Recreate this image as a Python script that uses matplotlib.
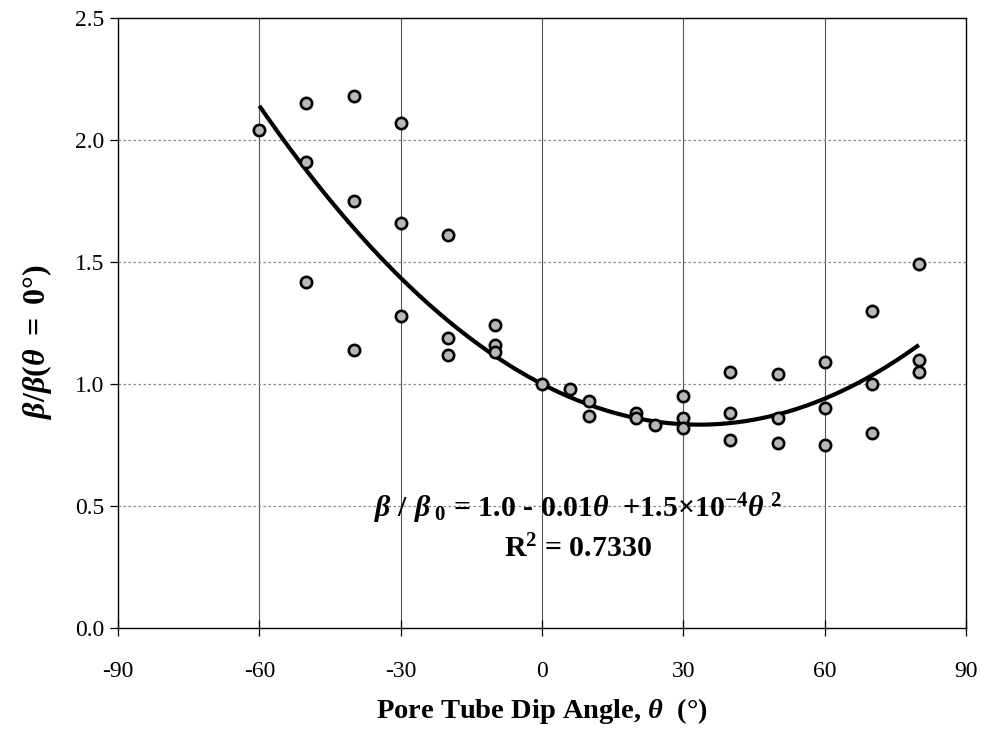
import numpy as np
import matplotlib
matplotlib.use("Agg")
import matplotlib.pyplot as plt

plt.rcParams["font.family"] = ["Liberation Serif", "DejaVu Serif"]
plt.rcParams["mathtext.fontset"] = "custom"
plt.rcParams["mathtext.rm"] = "Liberation Serif:bold"
plt.rcParams["mathtext.it"] = "Liberation Serif:italic:bold"
plt.rcParams["mathtext.bf"] = "Liberation Serif:bold"

# Measured dip angles (deg) and normalised beta values
dip_angle = [-60, -50, -50, -50, -40, -40, -40, -30, -30, -30,
             -20, -20, -20, -10, -10, -10, 0, 6, 10, 10,
             20, 20, 24, 30, 30, 30, 40, 40, 40, 50, 50, 50,
             60, 60, 60, 70, 70, 70, 80, 80, 80]
beta_ratio = [2.04, 2.15, 1.91, 1.42, 2.18, 1.75, 1.14, 2.07, 1.66, 1.28,
              1.61, 1.19, 1.12, 1.24, 1.16, 1.13, 1.00, 0.98, 0.93, 0.87,
              0.88, 0.86, 0.83, 0.95, 0.86, 0.82, 1.05, 0.88, 0.77, 1.04, 0.86, 0.76,
              1.09, 0.90, 0.75, 1.30, 1.00, 0.80, 1.49, 1.10, 1.05]

# Quadratic trend coefficients: beta/beta0 = c0 + c1*theta + c2*theta^2
fit_coeffs = [1.0, -0.01, 1.5e-4]
fit_range = (-60, 80)

x_ticks = [-90, -60, -30, 0, 30, 60, 90]
y_ticks = [0.0, 0.5, 1.0, 1.5, 2.0, 2.5]

fig = plt.figure(figsize=(9.87, 7.34), dpi=100)
ax = fig.add_axes([0.1196, 0.1444, 0.8591, 0.8311])

ax.set_xlim(-90, 90)
ax.set_ylim(0, 2.5)
ax.set_xticks(x_ticks)
ax.set_yticks(y_ticks)
ax.set_xticklabels([str(t) for t in x_ticks])
ax.set_yticklabels([f"{t:.1f}" for t in y_ticks])

# grid: solid verticals, dotted horizontals
for xv in x_ticks[1:-1]:
    ax.axvline(xv, color="#555555", lw=0.8, zorder=1)
for yv in y_ticks[1:-1]:
    ax.axhline(yv, color="#888888", lw=0.9, ls=(0, (2, 2)), zorder=1)

theta = np.linspace(fit_range[0], fit_range[1], 200)
fit = fit_coeffs[0] + fit_coeffs[1] * theta + fit_coeffs[2] * theta ** 2
ax.plot(theta, fit, color="black", lw=3.0, zorder=3, solid_capstyle="butt")

ax.scatter(dip_angle, beta_ratio, s=66, facecolor="#b8b8b8",
           edgecolor="black", linewidth=1.9, zorder=4)

for sp in ax.spines.values():
    sp.set_color("black")
    sp.set_linewidth(1.0)

ax.tick_params(axis="y", direction="out", length=6, width=0.9,
               labelsize=17, pad=4)
ax.tick_params(axis="x", direction="inout", length=12, width=0.9,
               labelsize=17, pad=18)

ax.set_xlabel(r"Pore Tube Dip Angle, $\theta$  (°)", fontsize=20.5,
              fontweight="bold", labelpad=10)
ax.set_ylabel(r"$\beta/\beta(\theta\ =\ 0°)$", fontsize=23)
ax.yaxis.set_label_coords(-0.075, 0.47)

ax.text(0.542, 0.182,
        r"$\beta\ /\ \beta_{\ 0}$ = 1.0 - 0.01$\theta$  +1.5×10$^{-4}$$\theta^{\ 2}$",
        transform=ax.transAxes, ha="center", va="baseline",
        fontsize=21.5, fontweight="bold")
ax.text(0.542, 0.116, r"R$^{2}$ = 0.7330", transform=ax.transAxes,
        ha="center", va="baseline", fontsize=21.5, fontweight="bold")

fig.savefig("out.png", dpi=100)
